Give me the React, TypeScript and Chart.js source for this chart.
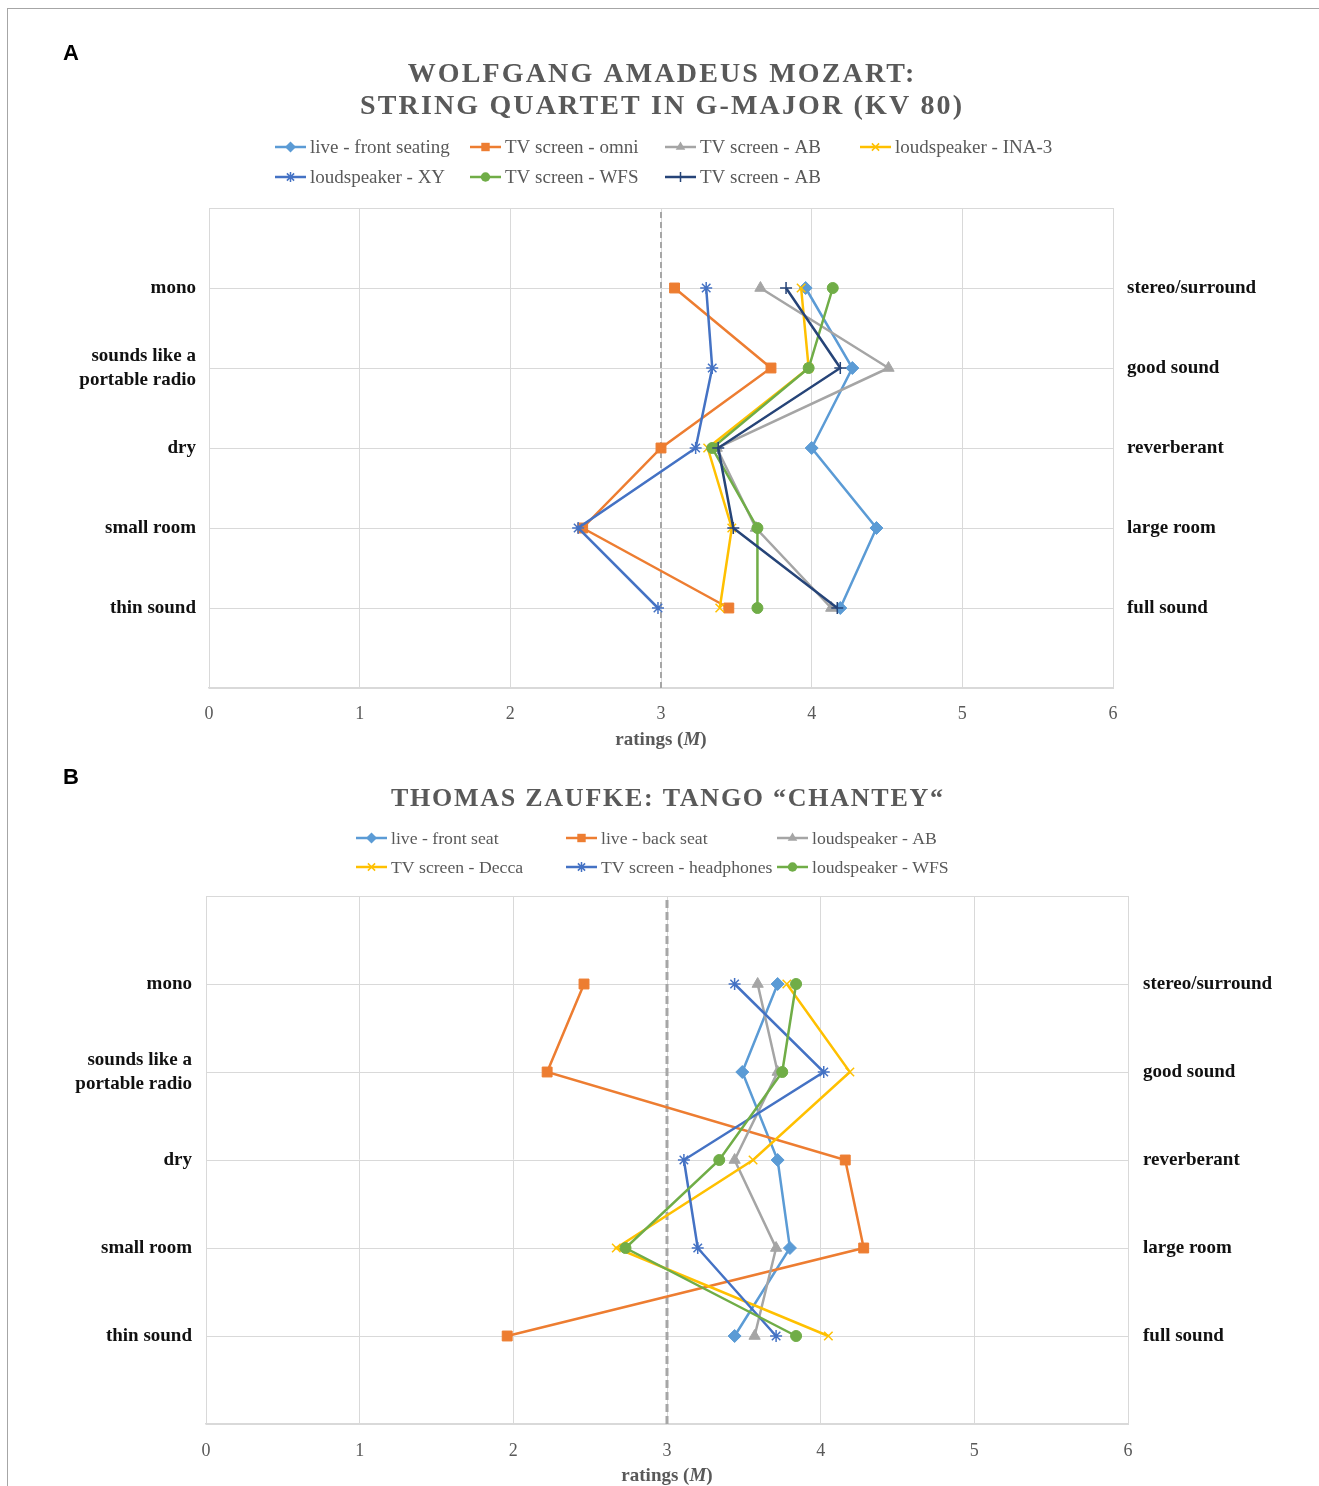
import React, { useEffect, useRef } from "react";
import { Chart, registerables } from "chart.js";

Chart.register(...registerables);

// ---------- data ----------
const ROW_Y = [5, 4, 3, 2, 1];
const ROW_LEFT: (string | string[])[] = ["mono", ["sounds like a", "portable radio"], "dry", "small room", "thin sound"];
const ROW_RIGHT = ["stereo/surround", "good sound", "reverberant", "large room", "full sound"];
const X_MIN = 0;
const X_MAX = 6;
const MIDPOINT = 3;

const A_TITLE = ["WOLFGANG AMADEUS MOZART:", "STRING QUARTET IN G-MAJOR (KV 80)"];
const A_NAMES = [
  "live - front seating",
  "TV screen - omni",
  "TV screen - AB",
  "loudspeaker - INA-3",
  "loudspeaker - XY",
  "TV screen - WFS",
  "TV screen - AB",
];
const A_LIVE_FRONT = [3.96, 4.27, 4.0, 4.43, 4.19];
const A_TV_OMNI = [3.09, 3.73, 3.0, 2.48, 3.45];
const A_TV_AB = [3.66, 4.51, 3.37, 3.63, 4.13];
const A_LS_INA3 = [3.93, 3.98, 3.31, 3.47, 3.39];
const A_LS_XY = [3.3, 3.34, 3.23, 2.45, 2.98];
const A_TV_WFS = [4.14, 3.98, 3.34, 3.64, 3.64];
const A_TV_AB2 = [3.83, 4.19, 3.38, 3.48, 4.17];

const B_TITLE = ["THOMAS ZAUFKE: TANGO “CHANTEY“"];
const B_NAMES = [
  "live - front seat",
  "live - back seat",
  "loudspeaker - AB",
  "TV screen - Decca",
  "TV screen - headphones",
  "loudspeaker - WFS",
];
const B_LIVE_FRONT = [3.72, 3.49, 3.72, 3.8, 3.44];
const B_LIVE_BACK = [2.46, 2.22, 4.16, 4.28, 1.96];
const B_LS_AB = [3.59, 3.72, 3.44, 3.71, 3.57];
const B_TV_DECCA = [3.78, 4.19, 3.56, 2.67, 4.05];
const B_TV_HEADPHONES = [3.44, 4.02, 3.11, 3.2, 3.71];
const B_LS_WFS = [3.84, 3.75, 3.34, 2.73, 3.84];

// ---------- styles ----------
const SERIF = '"Liberation Serif", "Times New Roman", serif';
const GRID = "#d9d9d9";
const TEXT_GRAY = "#595959";

type Sty = { color: string; point: string; r: number };
const S_LIGHTBLUE: Sty = { color: "#5B9BD5", point: "rectRot", r: 6.5 };
const S_ORANGE: Sty = { color: "#ED7D31", point: "rect", r: 7 };
const S_GRAY: Sty = { color: "#A5A5A5", point: "triangle", r: 6.5 };
const S_YELLOW: Sty = { color: "#FFC000", point: "crossRot", r: 6 };
const S_BLUE: Sty = { color: "#4472C4", point: "star", r: 6 };
const S_GREEN: Sty = { color: "#70AD47", point: "circle", r: 5.5 };
const S_NAVY: Sty = { color: "#264478", point: "cross", r: 6 };

const A_SERIES = [
  { name: A_NAMES[0], values: A_LIVE_FRONT, sty: S_LIGHTBLUE },
  { name: A_NAMES[1], values: A_TV_OMNI, sty: S_ORANGE },
  { name: A_NAMES[2], values: A_TV_AB, sty: S_GRAY },
  { name: A_NAMES[3], values: A_LS_INA3, sty: S_YELLOW },
  { name: A_NAMES[4], values: A_LS_XY, sty: S_BLUE },
  { name: A_NAMES[5], values: A_TV_WFS, sty: S_GREEN },
  { name: A_NAMES[6], values: A_TV_AB2, sty: S_NAVY },
];
const B_SERIES = [
  { name: B_NAMES[0], values: B_LIVE_FRONT, sty: S_LIGHTBLUE },
  { name: B_NAMES[1], values: B_LIVE_BACK, sty: S_ORANGE },
  { name: B_NAMES[2], values: B_LS_AB, sty: S_GRAY },
  { name: B_NAMES[3], values: B_TV_DECCA, sty: S_YELLOW },
  { name: B_NAMES[4], values: B_TV_HEADPHONES, sty: S_BLUE },
  { name: B_NAMES[5], values: B_LS_WFS, sty: S_GREEN },
];

const isStroke = (p: string) => p === "cross" || p === "crossRot" || p === "star";

function drawMarker(ctx: CanvasRenderingContext2D, style: string, x: number, y: number, r: number, color: string) {
  ctx.save();
  ctx.fillStyle = color;
  ctx.strokeStyle = color;
  ctx.lineWidth = 1.5;
  ctx.setLineDash([]);
  ctx.beginPath();
  const d = r * Math.SQRT1_2;
  switch (style) {
    case "circle":
      ctx.arc(x, y, r, 0, Math.PI * 2);
      ctx.fill();
      break;
    case "rect":
      ctx.rect(x - d, y - d, 2 * d, 2 * d);
      ctx.fill();
      break;
    case "rectRot":
      ctx.moveTo(x, y - r);
      ctx.lineTo(x + r, y);
      ctx.lineTo(x, y + r);
      ctx.lineTo(x - r, y);
      ctx.closePath();
      ctx.fill();
      break;
    case "triangle": {
      const a = (2 * Math.PI) / 3;
      ctx.moveTo(x, y - r);
      ctx.lineTo(x + Math.sin(a) * r, y - Math.cos(a) * r);
      ctx.lineTo(x + Math.sin(2 * a) * r, y - Math.cos(2 * a) * r);
      ctx.closePath();
      ctx.fill();
      break;
    }
    case "cross":
      ctx.moveTo(x, y - r);
      ctx.lineTo(x, y + r);
      ctx.moveTo(x - r, y);
      ctx.lineTo(x + r, y);
      ctx.stroke();
      break;
    case "crossRot":
      ctx.moveTo(x - d, y - d);
      ctx.lineTo(x + d, y + d);
      ctx.moveTo(x + d, y - d);
      ctx.lineTo(x - d, y + d);
      ctx.stroke();
      break;
    case "star":
      ctx.moveTo(x, y - r);
      ctx.lineTo(x, y + r);
      ctx.moveTo(x - d, y - d);
      ctx.lineTo(x + d, y + d);
      ctx.moveTo(x + d, y - d);
      ctx.lineTo(x - d, y + d);
      ctx.stroke();
      break;
  }
  ctx.restore();
}

type Spec = {
  letter: string;
  letterPos: [number, number];
  title: string[];
  titleY: number[];
  titleSize: number;
  titleTarget: number;
  series: { name: string; values: number[]; sty: Sty }[];
  legendRows: number[];
  legendCols: number[];
  legendSize: number;
  height: number;
  padTop: number;
  leftW: number;
  rightW: number;
  xH: number;
  leftPad: number;
  rightPad: number;
  xPad: number;
  axisTitleY: number;
  dashW: number;
  dash: number[];
};

const SPEC_A: Spec = {
  letter: "A",
  letterPos: [55, 45],
  title: A_TITLE,
  titleY: [66, 98],
  titleSize: 28,
  titleTarget: 602,
  series: A_SERIES,
  legendRows: [138, 168],
  legendCols: [267, 462, 657, 852],
  legendSize: 19,
  height: 755,
  padTop: 199,
  leftW: 201,
  rightW: 206,
  xH: 76,
  leftPad: 13,
  rightPad: 14,
  xPad: 15,
  axisTitleY: 731,
  dashW: 2,
  dash: [6, 4],
};

const SPEC_B: Spec = {
  letter: "B",
  letterPos: [55, 14],
  title: B_TITLE,
  titleY: [35],
  titleSize: 26,
  titleTarget: 552,
  series: B_SERIES,
  legendRows: [74, 103],
  legendCols: [348, 558, 769],
  legendSize: 17.7,
  height: 722,
  padTop: 132,
  leftW: 198,
  rightW: 191,
  xH: 62,
  leftPad: 14,
  rightPad: 15,
  xPad: 16,
  axisTitleY: 712,
  dashW: 3,
  dash: [8, 4],
};

const CANVAS_W = 1311;

function buildConfig(spec: Spec): any {
  const datasets: any[] = spec.series.map((s, i) => ({
    label: s.name,
    data: s.values.map((v, k) => ({ x: v, y: ROW_Y[k] })),
    borderColor: s.sty.color,
    backgroundColor: s.sty.color,
    borderWidth: 2.5,
    pointStyle: s.sty.point,
    pointRadius: s.sty.r,
    pointBorderWidth: isStroke(s.sty.point) ? 1.5 : 1,
    pointBorderColor: s.sty.color,
    pointBackgroundColor: s.sty.color,
    tension: 0,
    fill: false,
    order: -i,
  }));
  datasets.push({
    label: "midpoint",
    data: [
      { x: MIDPOINT, y: 0 },
      { x: MIDPOINT, y: 6 },
    ],
    borderColor: "#a6a6a6",
    borderWidth: spec.dashW,
    borderDash: spec.dash,
    pointRadius: 0,
    fill: false,
    order: 100,
  });

  const labelFor = (arr: (string | string[])[], v: number) => {
    const idx = ROW_Y.indexOf(v);
    return idx >= 0 ? arr[idx] : "";
  };

  const decor = {
    id: "decor",
    afterDraw(chart: any) {
      const ctx: CanvasRenderingContext2D = chart.ctx;
      const area = chart.chartArea;
      const cx = (area.left + area.right) / 2;
      ctx.save();
      // panel letter
      ctx.fillStyle = "#000";
      ctx.font = 'bold 22px "Liberation Sans", Arial, sans-serif';
      ctx.textAlign = "left";
      ctx.textBaseline = "middle";
      ctx.fillText(spec.letter, spec.letterPos[0], spec.letterPos[1]);

      // title with letter spacing
      ctx.font = `bold ${spec.titleSize}px ${SERIF}`;
      ctx.fillStyle = TEXT_GRAY;
      (ctx as any).letterSpacing = "0px";
      const widths = spec.title.map((t) => ctx.measureText(t).width);
      let maxI = 0;
      widths.forEach((w, i) => {
        if (w > widths[maxI]) maxI = i;
      });
      const ls = Math.max(0, (spec.titleTarget - widths[maxI]) / (spec.title[maxI].length - 1));
      spec.title.forEach((t, i) => {
        const w = widths[i] + ls * (t.length - 1);
        (ctx as any).letterSpacing = `${ls}px`;
        ctx.textAlign = "left";
        ctx.fillText(t, cx - w / 2, spec.titleY[i]);
      });
      (ctx as any).letterSpacing = "0px";

      // legend
      ctx.font = `${spec.legendSize}px ${SERIF}`;
      ctx.textBaseline = "middle";
      spec.series.forEach((s, i) => {
        const ncol = spec.legendCols.length;
        const x = spec.legendCols[i % ncol];
        const y = spec.legendRows[Math.floor(i / ncol)];
        ctx.strokeStyle = s.sty.color;
        ctx.lineWidth = 2.5;
        ctx.beginPath();
        ctx.moveTo(x, y);
        ctx.lineTo(x + 31, y);
        ctx.stroke();
        drawMarker(ctx, s.sty.point, x + 15.5, y, s.sty.r * 0.85, s.sty.color);
        ctx.fillStyle = TEXT_GRAY;
        ctx.textAlign = "left";
        ctx.fillText(s.name, x + 35, y + 1);
      });

      // axis title: ratings (M)
      const parts = [
        { t: "ratings (", f: `bold 19px ${SERIF}` },
        { t: "M", f: `italic bold 19px ${SERIF}` },
        { t: ")", f: `bold 19px ${SERIF}` },
      ];
      let total = 0;
      const pw = parts.map((p) => {
        ctx.font = p.f;
        const w = ctx.measureText(p.t).width;
        total += w;
        return w;
      });
      let xx = cx - total / 2;
      ctx.fillStyle = TEXT_GRAY;
      ctx.textAlign = "left";
      parts.forEach((p, i) => {
        ctx.font = p.f;
        ctx.fillText(p.t, xx, spec.axisTitleY);
        xx += pw[i];
      });
      ctx.restore();
    },
  };

  const yTickFont = { family: SERIF, size: 19, weight: "bold" as const, lineHeight: 1.26 };

  return {
    type: "line",
    data: { datasets },
    plugins: [decor],
    options: {
      responsive: false,
      animation: false,
      events: [],
      devicePixelRatio: 1,
      layout: { padding: { top: spec.padTop, left: 0, right: 0, bottom: 0 } },
      plugins: {
        legend: { display: false },
        title: { display: false },
        tooltip: { enabled: false },
      },
      scales: {
        x: {
          type: "linear",
          min: X_MIN,
          max: X_MAX,
          ticks: {
            stepSize: 1,
            padding: spec.xPad,
            color: TEXT_GRAY,
            font: { family: SERIF, size: 18 },
          },
          grid: { color: GRID, lineWidth: 1, drawTicks: false },
          border: { color: GRID, width: 1.5 },
          afterFit: (s: any) => {
            s.height = spec.xH;
          },
        },
        y: {
          type: "linear",
          position: "left",
          min: 0,
          max: 6,
          ticks: {
            stepSize: 1,
            autoSkip: false,
            padding: spec.leftPad,
            color: "#111",
            font: yTickFont,
            callback: (v: number) => labelFor(ROW_LEFT, v),
          },
          grid: { color: GRID, lineWidth: 1, drawTicks: false },
          border: { color: GRID, width: 1 },
          afterFit: (s: any) => {
            s.width = spec.leftW;
          },
        },
        y2: {
          type: "linear",
          position: "right",
          min: 0,
          max: 6,
          ticks: {
            stepSize: 1,
            autoSkip: false,
            padding: spec.rightPad,
            color: "#111",
            font: yTickFont,
            callback: (v: number) => labelFor(ROW_RIGHT, v),
          },
          grid: { display: false, drawTicks: false },
          border: { color: GRID, width: 1 },
          afterFit: (s: any) => {
            s.width = spec.rightW;
          },
        },
      },
    },
  };
}

function Panel({ spec, top }: { spec: Spec; top: number }) {
  const ref = useRef<HTMLCanvasElement | null>(null);
  useEffect(() => {
    if (!ref.current) return;
    const chart = new Chart(ref.current, buildConfig(spec));
    return () => chart.destroy();
  }, [spec]);
  return (
    <canvas
      ref={ref}
      width={CANVAS_W}
      height={spec.height}
      style={{ position: "absolute", left: 0, top, width: CANVAS_W, height: spec.height, display: "block" }}
    />
  );
}

export default function App() {
  return (
    <div
      style={{
        position: "fixed",
        left: 7,
        top: 8,
        width: 1312,
        height: 1478,
        borderTop: "1px solid #a6a6a6",
        borderLeft: "1px solid #a6a6a6",
        background: "#fff",
      }}
    >
      <Panel spec={SPEC_A} top={0} />
      <Panel spec={SPEC_B} top={SPEC_A.height} />
    </div>
  );
}
